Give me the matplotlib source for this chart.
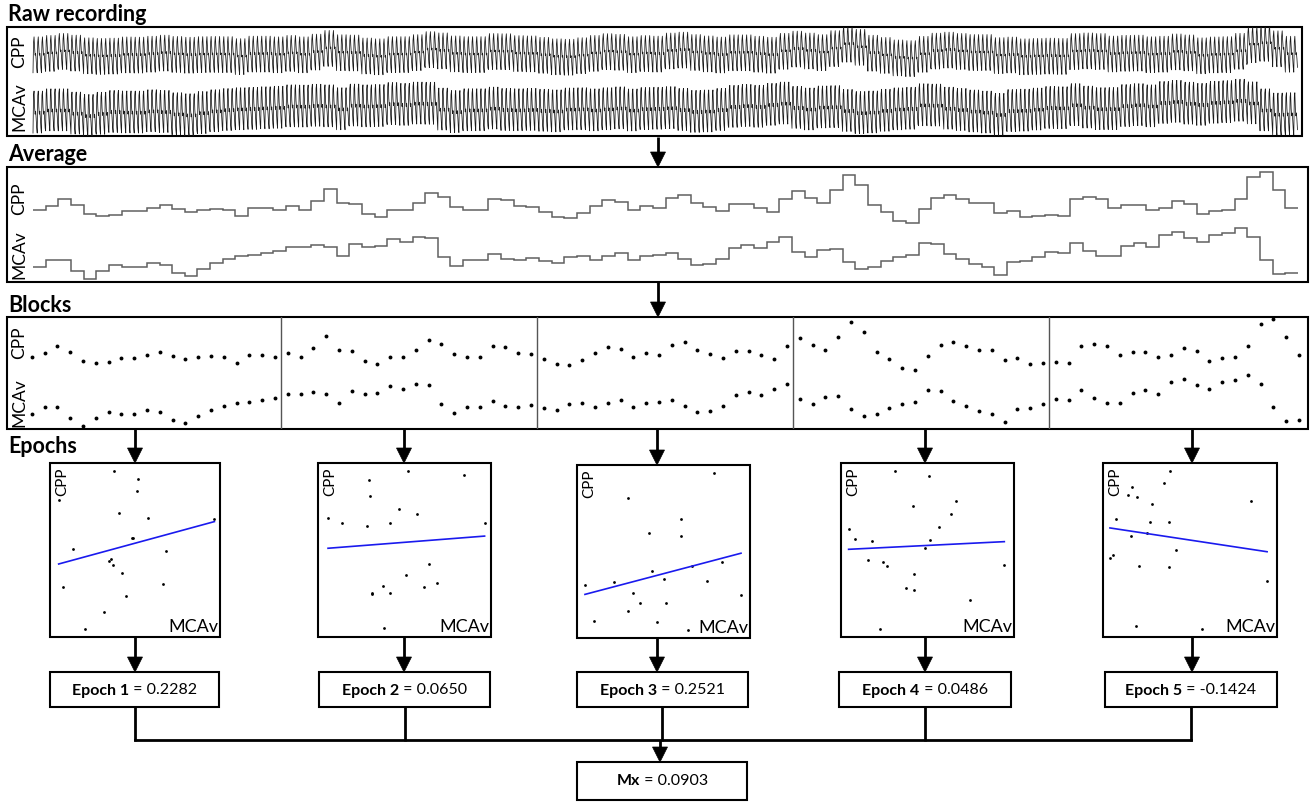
import numpy as np
import matplotlib
matplotlib.use("Agg")
import matplotlib.pyplot as plt
from matplotlib.patches import Rectangle, Polygon

W, H = 1312, 802
plt.rcParams['font.family'] = ['Lato', 'DejaVu Sans']

# ---------------- data (arbitrary units) ----------------
cpp = [218, 232, 252, 235, 208, 202, 205, 217, 215, 224, 235, 222, 214, 220, 222, 220, 200, 225, 225, 218,
       232, 218, 245, 282, 239, 236, 206, 198, 220, 220, 240, 270, 257, 227, 220, 220, 251, 249, 230, 227,
       213, 198, 194, 209, 232, 250, 243, 219, 231, 225, 256, 265, 241, 227, 216, 238, 238, 224, 214, 253,
       275, 256, 240, 280, 324, 293, 234, 212, 187, 180, 223, 255, 265, 252, 241, 241, 210, 216, 198, 202,
       205, 202, 251, 257, 251, 226, 233, 235, 219, 224, 247, 237, 208, 217, 220, 253, 319, 333, 278, 224]
mcav = [47, 69, 69, 37, 13, 35, 53, 48, 47, 60, 53, 30, 20, 42, 60, 72, 80, 84, 90, 95,
        109, 107, 115, 109, 80, 117, 109, 112, 132, 124, 137, 135, 77, 52, 70, 70, 87, 73, 70, 74,
        65, 59, 78, 80, 69, 80, 89, 68, 82, 85, 91, 73, 54, 58, 73, 104, 113, 105, 124, 137,
        94, 78, 98, 101, 63, 42, 48, 65, 79, 85, 120, 117, 86, 73, 58, 47, 24, 62, 66, 77,
        93, 90, 121, 97, 81, 82, 112, 121, 109, 143, 154, 136, 124, 145, 151, 165, 139, 69, 27, 30]

# single-beat pulse shapes of the raw recording (normalised)
pulse_cpp = [0.02, 0.85, 1.0, 0.72, 0.5, 0.55, 0.38, 0.15]
pulse_mcav = [0.0, 0.9, 1.0, 0.62, 0.45, 0.52, 0.35, 0.12]
beats_per_average = 3

block_size = 20

# per-epoch scatter (MCAv, CPP) in normalised units
epoch_mcav = [
    [37.6, 52.0, 51.2, 5.1, 40.6, 57.8, 96.7, 48.0, 49.0, 13.3, 68.4, 35.7, 34.5, 37.1, 42.5, 7.8, 66.5, 44.5, 31.6, 20.6],
    [52.1, 84.6, 29.5, 29.9, 46.7, 57.3, 5.8, 13.7, 28.6, 41.7, 96.3, 63.9, 50.8, 37.3, 68.7, 61.4, 31.1, 31.3, 41.5, 38.2],
    [79.4, 29.2, 60.4, 41.9, 60.0, 43.5, 66.7, 83.7, 4.6, 21.5, 50.0, 75.4, 32.3, 94.8, 36.2, 51.3, 29.2, 9.6, 46.0, 64.0],
    [31.0, 50.6, 41.5, 66.7, 63.7, 56.9, 4.4, 8.3, 17.7, 51.3, 48.7, 15.8, 24.4, 26.5, 42.1, 94.4, 37.5, 42.3, 74.8, 22.7],
    [38.7, 34.9, 16.5, 14.4, 19.5, 28.2, 84.9, 7.7, 26.8, 37.9, 25.1, 15.9, 41.8, 5.7, 4.0, 20.5, 37.7, 94.3, 19.0, 56.7],
]
epoch_cpp = [
    [95.6, 91.0, 83.8, 78.8, 71.0, 68.3, 67.9, 56.7, 56.7, 50.6, 49.6, 45.0, 43.8, 41.2, 36.9, 28.8, 30.6, 23.8, 14.4, 4.8],
    [95.2, 92.9, 90.4, 81.2, 73.6, 70.9, 68.2, 65.3, 64.0, 65.3, 65.7, 42.1, 35.6, 29.1, 31.2, 28.5, 25.5, 24.7, 25.1, 5.0],
    [95.2, 81.2, 68.8, 60.6, 58.7, 38.7, 41.7, 44.2, 30.4, 32.5, 34.2, 32.7, 25.8, 24.8, 20.0, 20.4, 15.6, 10.0, 9.2, 4.8],
    [95.2, 92.3, 75.2, 78.1, 70.6, 63.3, 62.1, 56.3, 55.4, 55.8, 51.3, 44.4, 43.1, 40.8, 36.3, 41.5, 27.9, 27.1, 21.5, 4.6],
    [95.2, 88.3, 86.2, 81.7, 80.2, 76.2, 78.1, 68.1, 66.2, 66.2, 60.0, 58.3, 50.2, 47.3, 45.4, 41.0, 40.2, 32.1, 6.3, 4.6],
]
fit_slope = [0.266, 0.0773, 0.2639, 0.0489, -0.1514]
fit_intercept = [40.6, 50.55, 23.99, 50.18, 63.28]
epoch_r = [0.2282, 0.0650, 0.2521, 0.0486, -0.1424]

# ---------------- figure ----------------
fig = plt.figure(figsize=(W / 100, H / 100), dpi=100)
ov = fig.add_axes([0, 0, 1, 1])
ov.set_xlim(0, W)
ov.set_ylim(H, 0)
ov.axis('off')

LW = 1.5


def px_axes(x0, y0, x1, y1):
    a = fig.add_axes([x0 / W, 1 - y1 / H, (x1 - x0) / W, (y1 - y0) / H])
    a.set_facecolor('none')
    a.axis('off')
    return a


def box(x0, y0, x1, y1, lw=LW):
    ov.add_patch(Rectangle((x0, y0), x1 - x0, y1 - y0, fill=False, lw=lw, ec='black', zorder=5))


def arrow(x, y0, y1, hl=15, hw=7.5):
    ov.plot([x, x], [y0, y1 - hl + 1], color='black', lw=2, solid_capstyle='butt', zorder=5)
    ov.add_patch(Polygon([[x - hw, y1 - hl], [x + hw, y1 - hl], [x, y1]], closed=True,
                         fc='black', ec='black', lw=0.5, zorder=6))


def vline(x, y0, y1):
    ov.plot([x, x], [y0, y1], color='black', lw=2, solid_capstyle='butt', zorder=5)


def title(x, y, s):
    ov.text(x, y, s, fontsize=15.5, fontweight='bold', ha='left', va='baseline')


def side_label(x, y, s, size=12.5):
    ov.text(x, y, s, fontsize=size, rotation=90, ha='center', va='center')


renderer = fig.canvas.get_renderer()


def two_part(cx, cy, bold, rest, size=11.5):
    t1 = ov.text(0, cy, bold, fontsize=size, fontweight='bold', ha='left', va='center', zorder=7)
    t2 = ov.text(0, cy, rest, fontsize=size, ha='left', va='center', zorder=7)
    w1 = t1.get_window_extent(renderer).width
    w2 = t2.get_window_extent(renderer).width
    x0 = cx - (w1 + w2) / 2
    t1.set_x(x0)
    t2.set_x(x0 + w1)


n = len(cpp)
idx = np.arange(n)

# ---------------- Raw recording ----------------
title(8, 21, 'Raw recording')
box(7, 27, 1302, 136)
ax_raw = px_axes(7, 27, 1302, 136)
spp = beats_per_average * len(pulse_cpp)
t_raw = np.arange(n * spp) / spp
lvl_c = np.repeat(np.asarray(cpp, float), spp)
lvl_m = np.repeat(np.asarray(mcav, float), spp)
wav_c = np.tile(pulse_cpp, n * beats_per_average)
wav_m = np.tile(pulse_mcav, n * beats_per_average)
raw_c = 192 + (lvl_c - np.mean(cpp)) * 0.3 + 110 * wav_c
raw_m = 20 + (lvl_m - np.mean(mcav)) * 0.3 + 126 * wav_m
ax_raw.plot(t_raw, raw_c, color='#1a1a1a', lw=0.55)
ax_raw.plot(t_raw, raw_m, color='#1a1a1a', lw=0.55)
ax_raw.set_xlim((7 - 33) / 12.65, (1302 - 33) / 12.65)
ax_raw.set_ylim(0, 327)
side_label(19, 52, 'CPP')
side_label(19, 107, 'MCAv')

arrow(658, 137, 167)

# ---------------- Average ----------------
title(8, 161, 'Average')
box(7, 167, 1308, 282)
ax_avg = px_axes(7, 167, 1308, 282)
edges = np.arange(n + 1)
ax_avg.stairs(cpp, edges, baseline=None, color='#606060', lw=1.1)
ax_avg.stairs(mcav, edges, baseline=None, color='#606060', lw=1.1)
ax_avg.set_xlim((7 - 33) / 12.65, (1308 - 33) / 12.65)
ax_avg.set_ylim(3, 348)
side_label(19, 199, 'CPP')
side_label(19, 255, 'MCAv')

arrow(658, 282, 317)

# ---------------- Blocks ----------------
title(8, 312, 'Blocks')
box(7, 317, 1308, 429)
ax_blk = px_axes(7, 317, 1308, 429)
ax_blk.plot(idx, cpp, 'o', color='black', ms=2.8, mew=0)
ax_blk.plot(idx, mcav, 'o', color='black', ms=2.8, mew=0)
for b in range(1, n // block_size):
    ax_blk.axvline(b * block_size - 0.5, color='#555555', lw=1.0)
ax_blk.set_xlim((7 - 31.7) / 12.8, (1308 - 31.7) / 12.8)
ax_blk.set_ylim(3, 339)
side_label(19, 343, 'CPP')
side_label(19, 403, 'MCAv')

# ---------------- Epochs ----------------
title(8, 453, 'Epochs')
arrow_x = [135, 404, 657, 925, 1192]
down_x = [135, 405, 662, 925, 1191]
sc_boxes = [(50, 463, 220, 637), (318, 463, 491, 637), (577, 465, 750, 638),
            (841, 463, 1014, 637), (1103, 463, 1277, 637)]
res_boxes = [(50, 672, 219, 707), (319, 672, 490, 707), (577, 672, 748, 707),
             (839, 672, 1011, 707), (1105, 672, 1277, 707)]

for k in range(len(epoch_r)):
    x0, y0, x1, y1 = sc_boxes[k]
    arrow(arrow_x[k], 429, y0)
    box(x0, y0, x1, y1)
    a = px_axes(x0, y0, x1, y1)
    xs = np.asarray(epoch_mcav[k])
    ys = np.asarray(epoch_cpp[k])
    a.plot(xs, ys, 'o', color='black', ms=2.0, mew=0)
    xl = np.array([xs.min(), xs.max()])
    a.plot(xl, fit_slope[k] * xl + fit_intercept[k], color='#1a1aee', lw=1.2)
    a.set_xlim(0, 100)
    a.set_ylim(0, 100)
    ov.text(x0 + 12.5, y0 + 5, 'CPP', fontsize=11, rotation=90, ha='center', va='top', zorder=7)
    ov.text(x1 - 2, y1 - 2, 'MCAv', fontsize=13, ha='right', va='bottom', zorder=7)

    rx0, ry0, rx1, ry1 = res_boxes[k]
    arrow(arrow_x[k], y1, ry0)
    box(rx0, ry0, rx1, ry1)
    two_part((rx0 + rx1) / 2, (ry0 + ry1) / 2 + 1, f'Epoch {k + 1}', f' = {epoch_r[k]:.4f}')
    vline(down_x[k], ry1, 741)

ov.plot([down_x[0], down_x[-1]], [740, 740], color='black', lw=2, solid_capstyle='projecting', zorder=5)
arrow(660, 740, 762)
box(577, 762, 747, 800)
mx = np.mean(epoch_r)
two_part(662, 781, 'Mx', f' = {mx:.4f}')

fig.savefig('out.png', dpi=100)
